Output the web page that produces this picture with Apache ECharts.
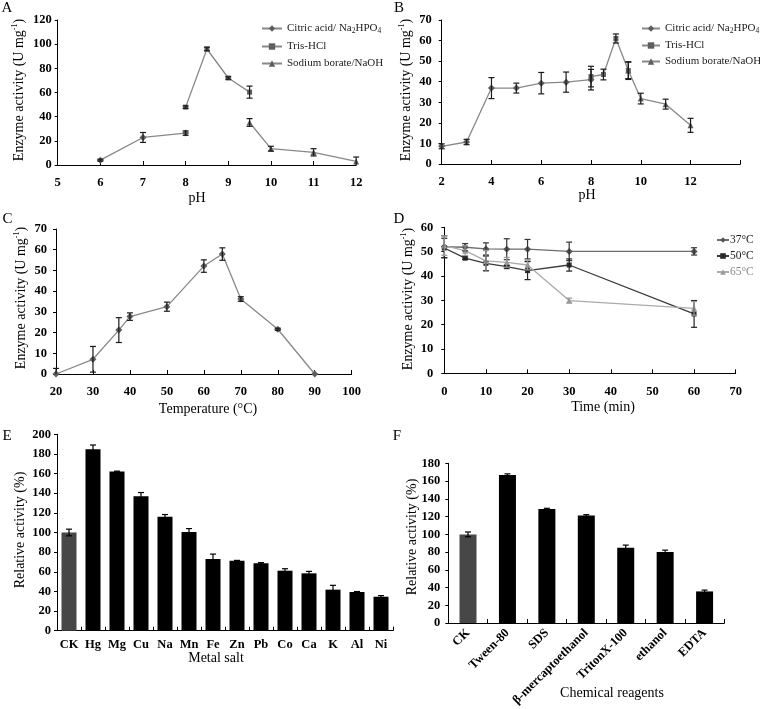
<!DOCTYPE html>
<html><head><meta charset="utf-8">
<script src="https://cdn.jsdelivr.net/npm/echarts@6/dist/echarts.min.js"></script>
<style>html,body{margin:0;padding:0;background:#fff}#c{width:760px;height:709px}</style>
</head><body><div id="c"></div>
<script>
// ---------- Panel A : pH optimum ----------
var aCitricX = [6, 7, 8];
var aCitricY = [4, 22.8, 26.4];
var aCitricE = [0.8, 4.1, 1.8];
var aTrisX = [8, 8.5, 9, 9.5];
var aTrisY = [47.9, 96, 72, 60.3];
var aTrisE = [1, 1.5, 1, 5];
var aBorateX = [9.5, 10, 11, 12];
var aBorateY = [35.2, 13.5, 10.5, 3];
var aBorateE = [3.2, 2, 3, 3.6];

// ---------- Panel B : pH stability ----------
var bCitricX = [2, 3, 4, 5, 6, 7, 8];
var bCitricY = [8.6, 10.7, 36.9, 36.9, 39.3, 39.8, 41];
var bCitricE = [1.2, 1.3, 5.1, 2.4, 5.2, 4.9, 5];
var bTrisX = [8, 8.5, 9, 9.5];
var bTrisY = [42.5, 43.5, 61, 45.4];
var bTrisE = [5, 2.6, 2.2, 4.3];
var bBorateX = [9.5, 10, 11, 12];
var bBorateY = [45.5, 31.8, 29.1, 18.8];
var bBorateE = [4, 2.6, 2.4, 3.4];

// ---------- Panel C : temperature optimum ----------
var cTempX = [20, 30, 37, 40, 50, 60, 65, 70, 80, 90];
var cActY = [0, 7.1, 21.2, 27.7, 32.5, 52.1, 57.9, 36.2, 21.6, 0];
var cActE = [2.7, 6.2, 6, 1.8, 2.2, 3, 3, 1.1, 0.5, 0];

// ---------- Panel D : thermostability ----------
var dTimeX = [0, 5, 10, 15, 20, 30, 60];
var d37Y = [52, 51.8, 51.1, 51, 51, 50.1, 50.1];
var d37E = [4.5, 1.5, 2.5, 4.3, 4, 3.8, 1.5];
var d50Y = [51.5, 47.3, 45.2, 43.8, 42.2, 44.5, 24.4];
var d50E = [4, 0.5, 3, 0.5, 3.7, 2.5, 5.5];
var d65Y = [52.5, 50.4, 46.2, 45.6, 44.5, 29.9, 26.7];
var d65E = [4, 2, 4.3, 2, 2, 1, 2.8];

// ---------- Panel E : metal salts ----------
var metalCats = ['CK', 'Hg', 'Mg', 'Cu', 'Na', 'Mn', 'Fe', 'Zn', 'Pb', 'Co', 'Ca', 'K', 'Al', 'Ni'];
var metalVals = [100, 184.7, 162, 136.8, 116.1, 100.5, 73, 71.3, 68.6, 61.1, 58.4, 41.8, 39.4, 34.6];
var metalErr = [3.4, 4.4, 0.5, 3.9, 2.2, 3.5, 5, 0.3, 0.7, 2, 2, 4.4, 0.5, 1.1];

// ---------- Panel F : chemical reagents ----------
var chemCats = ['CK', 'Tween-80', 'SDS', '\u03b2-mercaptoethanol', 'TritonX-100', 'ethanol', 'EDTA'];
var chemVals = [99.9, 166.7, 128.6, 121.1, 84.8, 80.1, 35.6];
var chemErr = [2.7, 1.4, 0.7, 1, 3, 2, 1.5];

var N_CIT = 'Citric acid/ Na2HPO4', N_TRIS = 'Tris-HCl', N_BOR = 'Sodium borate/NaOH';
var FONT = '"Liberation Serif", "Times New Roman", serif';

function pairs(xs, ys) { return xs.map(function (x, i) { return [x, ys[i]]; }); }
function triples(xs, ys, es) { return xs.map(function (x, i) { return [x, ys[i], es[i]]; }); }

function errRenderer(color, cap) {
  return function (params, api) {
    var x = api.value(0), y = api.value(1), e = api.value(2);
    if (!e) return null;
    var lowV = y - e, clamped = false;
    if (lowV < 0) { lowV = 0; clamped = true; }
    var hi = api.coord([x, y + e]), lo = api.coord([x, lowV]);
    var st = { stroke: color, lineWidth: 1.2 };
    var ch = [
      { type: 'line', shape: { x1: hi[0], y1: hi[1], x2: lo[0], y2: lo[1] }, style: st },
      { type: 'line', shape: { x1: hi[0] - cap, y1: hi[1], x2: hi[0] + cap, y2: hi[1] }, style: st }
    ];
    if (!clamped) ch.push({ type: 'line', shape: { x1: lo[0] - cap, y1: lo[1], x2: lo[0] + cap, y2: lo[1] }, style: st });
    return { type: 'group', children: ch };
  };
}
function errSeries(idx, data, color) {
  return { type: 'custom', xAxisIndex: idx, yAxisIndex: idx, data: data, renderItem: errRenderer(color || '#1a1a1a', 3),
    encode: { x: 0, y: 1 }, z: 5, silent: true, clip: false, animation: false };
}
function lineSeries(idx, name, data, symbol, size, lineColor, symColor) {
  return { type: 'line', name: name, xAxisIndex: idx, yAxisIndex: idx, data: data, symbol: symbol, symbolSize: size,
    lineStyle: { color: lineColor, width: 1.3 }, itemStyle: { color: symColor }, z: 3, animation: false, silent: true };
}

var lblStyle = { color: '#000', fontFamily: FONT, fontWeight: 'bold', fontSize: 12.5 };
function xVal(gi, min, max, interval, margin, fmt) {
  return { type: 'value', gridIndex: gi, min: min, max: max, interval: interval,
    axisLine: { show: true, onZero: false, lineStyle: { color: '#000', width: 1 } },
    axisTick: { show: true, inside: true, length: 4, lineStyle: { color: '#000' } },
    axisLabel: Object.assign({ margin: margin, showMinLabel: true, showMaxLabel: true, formatter: fmt }, lblStyle),
    splitLine: { show: false } };
}
function yVal(gi, min, max, interval, margin) {
  return { type: 'value', gridIndex: gi, min: min, max: max, interval: interval,
    axisLine: { show: true, onZero: false, lineStyle: { color: '#000', width: 1 } },
    axisTick: { show: true, inside: false, length: 3, lineStyle: { color: '#000' } },
    axisLabel: Object.assign({ margin: margin, showMinLabel: true, showMaxLabel: true }, lblStyle),
    splitLine: { show: false } };
}
function xCat(gi, cats, rotate, margin) {
  return { type: 'category', gridIndex: gi, data: cats, boundaryGap: true,
    axisLine: { show: true, lineStyle: { color: '#000', width: 1 } },
    axisTick: { show: true, inside: true, length: 4, alignWithLabel: false, interval: 0, lineStyle: { color: '#000' } },
    axisLabel: Object.assign({ margin: margin, interval: 0, rotate: rotate }, lblStyle),
    splitLine: { show: false } };
}

var legendRich = {
  n: { fontFamily: FONT, fontSize: 11, color: '#222', lineHeight: 13 },
  s: { fontFamily: FONT, fontSize: 7.5, color: '#222', lineHeight: 7, verticalAlign: 'bottom' }
};
function legendFmt(name) {
  if (name === N_CIT) return '{n|Citric acid/ Na}{s|2}{n|HPO}{s|4}';
  return '{n|' + name + '}';
}

var yTitleRich = {
  a: { fontFamily: FONT, fontSize: 14, fill: '#000', lineHeight: 16 },
  b: { fontFamily: FONT, fontSize: 8, fill: '#000', lineHeight: 8, verticalAlign: 'top' }
};
function yTitle(x, y, text, rich) {
  return { type: 'text', x: x, y: y, rotation: Math.PI / 2,
    style: { text: text, rich: rich ? yTitleRich : undefined, fontFamily: FONT, fontSize: 14, fill: '#000', align: 'center', verticalAlign: 'middle' } };
}
function plainText(x, y, text, size) {
  return { type: 'text', x: x, y: y,
    style: { text: text, fontFamily: FONT, fontSize: size || 14, fill: '#000', align: 'center', verticalAlign: 'middle' } };
}
var ENZ = '{a|Enzyme activity (U mg}{b|-1}{a|)}';

var option = {
  backgroundColor: '#fff',
  animation: false,
  grid: [
    { left: 57.7, top: 20, width: 298.5, height: 145 },
    { left: 441.7, top: 20, width: 298.6, height: 144 },
    { left: 56, top: 229, width: 295.7, height: 145 },
    { left: 444.3, top: 227.3, width: 291.4, height: 146 },
    { left: 57, top: 434.3, width: 336, height: 196.4 },
    { left: 448.3, top: 463.3, width: 276, height: 167 }
  ],
  xAxis: [
    xVal(0, 5, 12, 1, 11),
    xVal(1, 2, 14, 2, 11, function (v) { return v === 14 ? '' : v; }),
    xVal(2, 20, 100, 10, 11),
    xVal(3, 0, 70, 10, 12),
    xCat(4, metalCats, 0, 8),
    xCat(5, chemCats, 45, 8)
  ],
  yAxis: [
    yVal(0, 0, 120, 20, 6),
    yVal(1, 0, 70, 10, 10),
    yVal(2, 0, 70, 10, 9),
    yVal(3, 0, 60, 10, 11),
    yVal(4, 0, 200, 20, 6),
    yVal(5, 0, 180, 20, 8)
  ],
  legend: [
    { data: [N_CIT, N_TRIS, N_BOR], orient: 'vertical', left: 256, top: 18, itemWidth: 20, itemHeight: 8, itemGap: 6,
      formatter: legendFmt, textStyle: { rich: legendRich }, selectedMode: false },
    { data: [N_CIT, N_TRIS, N_BOR], orient: 'vertical', left: 636, top: 18, itemWidth: 18, itemHeight: 8, itemGap: 5,
      formatter: legendFmt, textStyle: { rich: legendRich }, selectedMode: false },
    { data: [{ name: '37\u00b0C' }, { name: '50\u00b0C' }, { name: '65\u00b0C', textStyle: { color: '#8a8a8a' } }],
      orient: 'vertical', left: 711, top: 229, itemWidth: 12, itemHeight: 7, itemGap: 4, selectedMode: false,
      textStyle: { fontFamily: FONT, fontSize: 11.5, color: '#222', padding: [0, 0, 0, -4] } }
  ],
  graphic: [
    plainText(7, 8, 'A', 15), plainText(399, 8, 'B', 15), plainText(7.5, 219, 'C', 15),
    plainText(399, 219, 'D', 15), plainText(7, 436, 'E', 15), plainText(397, 436, 'F', 15),
    yTitle(19, 90, ENZ, true), yTitle(406, 90, ENZ, true), yTitle(21, 298, ENZ, true), yTitle(408, 299, ENZ, true),
    yTitle(20, 530, 'Relative activity (%)'), yTitle(412, 537, 'Relative activity (%)'),
    plainText(197, 198, 'pH'), plainText(587, 195, 'pH'), plainText(208, 409, 'Temperature (\u00b0C)'),
    plainText(603, 407, 'Time (min)'), plainText(216, 658, 'Metal salt'), plainText(612, 693, 'Chemical reagents')
  ],
  series: [
    lineSeries(0, N_CIT, pairs(aCitricX, aCitricY), 'diamond', 7, '#888', '#5e5e5e'),
    lineSeries(0, N_TRIS, pairs(aTrisX, aTrisY), 'rect', 5, '#888', '#5e5e5e'),
    lineSeries(0, N_BOR, pairs(aBorateX, aBorateY), 'triangle', 6, '#888', '#5e5e5e'),
    errSeries(0, triples(aCitricX, aCitricY, aCitricE)),
    errSeries(0, triples(aTrisX, aTrisY, aTrisE)),
    errSeries(0, triples(aBorateX, aBorateY, aBorateE)),

    lineSeries(1, N_CIT, pairs(bCitricX, bCitricY), 'diamond', 7, '#888', '#5e5e5e'),
    lineSeries(1, N_TRIS, pairs(bTrisX, bTrisY), 'rect', 5, '#888', '#5e5e5e'),
    lineSeries(1, N_BOR, pairs(bBorateX, bBorateY), 'triangle', 6, '#888', '#5e5e5e'),
    errSeries(1, triples(bCitricX, bCitricY, bCitricE)),
    errSeries(1, triples(bTrisX, bTrisY, bTrisE)),
    errSeries(1, triples(bBorateX, bBorateY, bBorateE)),

    lineSeries(2, 'Temperature', pairs(cTempX, cActY), 'diamond', 7, '#888', '#5e5e5e'),
    errSeries(2, triples(cTempX, cActY, cActE)),

    lineSeries(3, '37\u00b0C', pairs(dTimeX, d37Y), 'diamond', 7, '#6e6e6e', '#555'),
    lineSeries(3, '50\u00b0C', pairs(dTimeX, d50Y), 'rect', 5, '#3a3a3a', '#2a2a2a'),
    lineSeries(3, '65\u00b0C', pairs(dTimeX, d65Y), 'triangle', 6, '#ababab', '#9a9a9a'),
    errSeries(3, triples(dTimeX, d37Y, d37E), '#333'),
    errSeries(3, triples(dTimeX, d50Y, d50E), '#222'),
    errSeries(3, triples(dTimeX, d65Y, d65E), '#999'),

    { type: 'bar', xAxisIndex: 4, yAxisIndex: 4, barWidth: 15, animation: false, silent: true,
      data: metalVals.map(function (v, i) { return { value: v, itemStyle: { color: i === 0 ? '#474747' : '#000' } }; }) },
    errSeries(4, metalVals.map(function (v, i) { return [i, v, metalErr[i]]; }), '#000'),

    { type: 'bar', xAxisIndex: 5, yAxisIndex: 5, barWidth: 17, animation: false, silent: true,
      data: chemVals.map(function (v, i) { return { value: v, itemStyle: { color: i === 0 ? '#474747' : '#000' } }; }) },
    errSeries(5, chemVals.map(function (v, i) { return [i, v, chemErr[i]]; }), '#000')
  ]
};
var chart = echarts.init(document.getElementById('c'), null, { renderer: 'canvas' });
chart.setOption(option);
</script>
</body></html>
